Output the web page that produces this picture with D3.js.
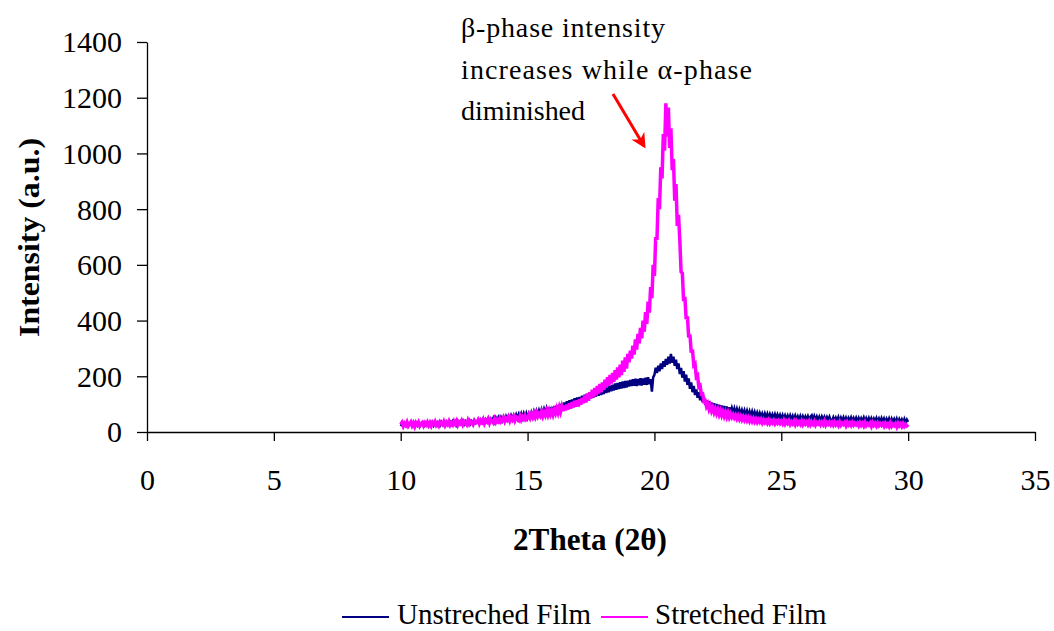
<!DOCTYPE html>
<html>
<head>
<meta charset="utf-8">
<script src="https://cdn.jsdelivr.net/npm/d3@7"></script>
<style>
  html, body { margin: 0; padding: 0; background: #fff; }
  svg { display: block; }
  text { font-family: "Liberation Serif", "Times New Roman", serif; fill: #000; }
</style>
</head>
<body>
<svg id="chart" width="1054" height="631"></svg>
<script>
// ---- data ----
const twoThetaStart = 10;
const twoThetaStep = 0.05;

const unstretched = [
  21, 29, 19, 28, 23, 31, 20, 27, 30, 21, 28, 19, 30, 23, 31, 20, 28, 25, 32, 22,
  25, 33, 22, 32, 27, 35, 23, 31, 34, 25, 33, 24, 35, 26, 34, 24, 36, 27, 33, 37,
  28, 38, 29, 37, 26, 39, 30, 38, 31, 40, 28, 39, 33, 29, 41, 30, 39, 33, 42, 31,
  33, 43, 32, 44, 35, 46, 34, 45, 37, 49, 36, 47, 39, 50, 37, 51, 40, 52, 41, 53,
  41, 54, 42, 56, 44, 57, 45, 59, 47, 60, 48, 62, 48, 63, 50, 65, 50, 66, 52, 67,
  51, 66, 54, 70, 56, 73, 58, 75, 60, 77, 62, 80, 64, 82, 67, 85, 69, 88, 71, 90,
  71, 92, 75, 96, 78, 99, 81, 102, 84, 106, 87, 110, 90, 114, 94, 117, 97, 121, 100, 124,
  104, 126, 107, 130, 111, 134, 115, 137, 118, 141, 121, 144, 124, 147, 127, 150, 130, 154, 133, 157,
  136, 160, 140, 163, 143, 167, 146, 170, 149, 174, 152, 176, 154, 179, 156, 181, 158, 183, 160, 184,
  163, 187, 165, 189, 166, 191, 165, 190, 168, 193, 167, 192, 170, 195, 169, 197, 172, 190, 145, 196,
  205, 231, 212, 238, 218, 246, 226, 254, 234, 262, 241, 270, 246, 280, 249, 270, 238, 260, 226, 246,
  208, 230, 195, 218, 181, 206, 169, 192, 155, 178, 143, 165, 133, 153, 123, 143, 114, 135, 107, 127,
  98, 114, 93, 110, 89, 106, 86, 103, 83, 100, 81, 98, 78, 95, 76, 93, 74, 91, 72, 89,
  70, 86, 68, 84, 66, 82, 64, 80, 63, 78, 62, 77, 60, 76, 59, 74, 58, 73, 56, 71,
  55, 69, 54, 68, 53, 66, 52, 66, 51, 65, 50, 64, 51, 63, 49, 63, 48, 62, 49, 61,
  47, 60, 45, 59, 46, 58, 44, 59, 45, 57, 43, 58, 45, 56, 44, 57, 43, 56, 44, 55,
  43, 56, 42, 55, 60, 44, 57, 43, 55, 42, 54, 41, 55, 43, 54, 41, 53, 42, 54, 41,
  40, 52, 39, 51, 40, 53, 38, 51, 40, 52, 39, 51, 38, 50, 40, 52, 38, 50, 39, 51,
  38, 50, 37, 49, 38, 51, 36, 49, 38, 50, 37, 49, 36, 48, 38, 50, 37, 48, 36, 49,
  36, 48, 35, 47, 36, 48, 34, 47, 35, 46, 34, 47, 33, 46, 35, 45, 33, 46, 32, 44,
  36
];

const stretched = [
  27, 34, 21, 31, 24, 35, 22, 29, 36, 23, 32, 20, 33, 26, 35, 22, 30, 34, 23, 33,
  26, 35, 24, 33, 22, 34, 28, 37, 25, 32, 23, 36, 30, 26, 37, 24, 34, 27, 38, 25,
  33, 26, 38, 29, 39, 25, 35, 30, 40, 27, 37, 32, 26, 41, 29, 38, 34, 27, 40, 33,
  34, 43, 30, 41, 35, 45, 31, 42, 36, 46, 32, 44, 39, 33, 47, 35, 44, 38, 48, 36,
  40, 51, 38, 49, 43, 53, 40, 52, 44, 55, 41, 53, 47, 42, 57, 44, 54, 47, 58, 45,
  49, 62, 51, 64, 53, 67, 54, 68, 56, 66, 58, 72, 57, 71, 60, 75, 61, 77, 63, 76,
  62, 79, 67, 84, 69, 88, 72, 91, 75, 95, 78, 98, 81, 103, 84, 107, 88, 112, 91, 114,
  92, 117, 98, 123, 103, 131, 106, 137, 112, 143, 121, 152, 126, 158, 131, 165, 138, 172, 143, 178,
  152, 188, 160, 197, 166, 205, 174, 212, 180, 222, 188, 232, 196, 242, 204, 256, 216, 268, 228, 280,
  250, 292, 264, 310, 278, 332, 296, 352, 318, 374, 336, 400, 360, 430, 388, 468, 428, 520, 480, 600,
  560, 700, 690, 840, 800, 950, 910, 1070, 1010, 1180, 1060, 1165, 1020, 1090, 940, 980, 830, 890, 740, 780,
  690, 575, 570, 470, 485, 405, 415, 340, 350, 285, 296, 240, 245, 198, 203, 162, 166, 136, 137, 110,
  112, 92, 101, 82, 94, 76, 88, 71, 84, 67, 80, 63, 76, 60, 73, 57, 71, 55, 69, 53,
  65, 53, 62, 51, 60, 48, 58, 46, 56, 44, 54, 43, 53, 41, 51, 39, 49, 38, 48, 37,
  46, 35, 44, 36, 45, 33, 43, 34, 41, 32, 42, 31, 40, 33, 41, 30, 39, 32, 40, 31,
  39, 30, 41, 29, 38, 31, 40, 28, 37, 30, 39, 27, 38, 29, 36, 28, 39, 27, 37, 29,
  36, 27, 38, 26, 35, 28, 37, 25, 34, 29, 36, 26, 35, 27, 38, 25, 34, 28, 36, 26,
  34, 25, 35, 26, 33, 24, 36, 25, 32, 27, 34, 23, 35, 26, 33, 24, 34, 25, 32, 26,
  32, 23, 33, 24, 31, 22, 34, 23, 30, 25, 32, 21, 33, 24, 31, 22, 32, 23, 30, 24,
  30, 21, 31, 22, 29, 20, 32, 21, 28, 23, 30, 19, 31, 22, 29, 20, 30, 21, 28, 22,
  27
];

const xTicks = [0, 5, 10, 15, 20, 25, 30, 35];
const yTicks = [0, 200, 400, 600, 800, 1000, 1200, 1400];
const seriesNames = ["Unstreched Film", "Stretched Film"];
const seriesColors = ["#000080", "#FF00FF"];
const annotationLines = ["β-phase intensity", "increases while α-phase", "diminished"];

// ---- layout ----
const svg = d3.select("#chart");
const margin = { left: 147, top: 42, right: 19, bottom: 199 };
const W = 1054, H = 631;
const x = d3.scaleLinear().domain([0, 35]).range([margin.left, W - margin.right]);
const y = d3.scaleLinear().domain([0, 1400]).range([H - margin.bottom, margin.top]);

// axes
const fs = 30;
const yAxis = svg.append("g").attr("transform", `translate(${margin.left},0)`)
  .call(d3.axisLeft(y).tickValues(yTicks).tickFormat(d3.format("d"))
    .tickSize(10).tickSizeOuter(0).tickPadding(15));
const xAxis = svg.append("g").attr("transform", `translate(0,${y(0)})`)
  .call(d3.axisBottom(x).tickValues(xTicks).tickFormat(d3.format("d"))
    .tickSize(9).tickSizeOuter(0));
[yAxis, xAxis].forEach(a => {
  a.select(".domain").attr("stroke", "#000").attr("stroke-width", 1.3);
  a.selectAll(".tick line").attr("stroke", "#000").attr("stroke-width", 1.3);
  a.selectAll(".tick text").attr("font-family", '"Liberation Serif", serif')
    .attr("font-size", fs).attr("fill", "#000");
});
yAxis.selectAll(".tick text").attr("dy", "0.33em");
xAxis.selectAll(".tick text").attr("y", 58).attr("dy", 0);

// lines
const line = d3.line()
  .x((d, i) => x(twoThetaStart + i * twoThetaStep))
  .y(d => y(d));
const plot = svg.append("g");
plot.append("path").datum(unstretched)
  .attr("fill", "none").attr("stroke", seriesColors[0]).attr("stroke-width", 2.5)
  .attr("stroke-linejoin", "miter").attr("d", line);
plot.append("path").datum(stretched)
  .attr("fill", "none").attr("stroke", seriesColors[1]).attr("stroke-width", 3.5)
  .attr("stroke-linejoin", "miter").attr("d", line);

// axis titles
svg.append("text").attr("transform", `translate(39,${(138 + 337) / 2}) rotate(-90)`)
  .attr("text-anchor", "middle").attr("font-weight", "bold").attr("font-size", 30)
  .attr("textLength", 199).attr("lengthAdjust", "spacingAndGlyphs")
  .text("Intensity (a.u.)");
svg.append("text").attr("x", 590).attr("y", 550)
  .attr("text-anchor", "middle").attr("font-weight", "bold").attr("font-size", 31)
  .attr("textLength", 154).attr("lengthAdjust", "spacingAndGlyphs")
  .text("2Theta (2θ)");

// annotation
const annWidths = [204, 291, 124];
annotationLines.forEach((t, i) => {
  svg.append("text").attr("font-size", 28)
    .attr("x", 461).attr("y", 37 + i * 41.5)
    .attr("textLength", annWidths[i]).attr("lengthAdjust", "spacing")
    .text(t);
});
// arrow
const defs = svg.append("defs");
defs.append("marker").attr("id", "arrowhead").attr("viewBox", "0 0 10 10")
  .attr("refX", 8).attr("refY", 5).attr("markerWidth", 5).attr("markerHeight", 5)
  .attr("orient", "auto").attr("markerUnits", "strokeWidth")
  .append("path").attr("d", "M0,0 L10,5 L0,10 L3,5 Z").attr("fill", "#FF0000");
svg.append("line").attr("x1", 613).attr("y1", 94).attr("x2", 644).attr("y2", 146)
  .attr("stroke", "#FF0000").attr("stroke-width", 3).attr("marker-end", "url(#arrowhead)");

// legend
const legendItems = [
  { x1: 342, x2: 389, tx: 397 },
  { x1: 601, x2: 648, tx: 655 }
];
legendItems.forEach((it, i) => {
  svg.append("line").attr("x1", it.x1).attr("x2", it.x2).attr("y1", 617).attr("y2", 617)
    .attr("stroke", seriesColors[i]).attr("stroke-width", 2);
  svg.append("text").attr("x", it.tx).attr("y", 624)
    .attr("font-size", 29).text(seriesNames[i]);
});
</script>
</body>
</html>
